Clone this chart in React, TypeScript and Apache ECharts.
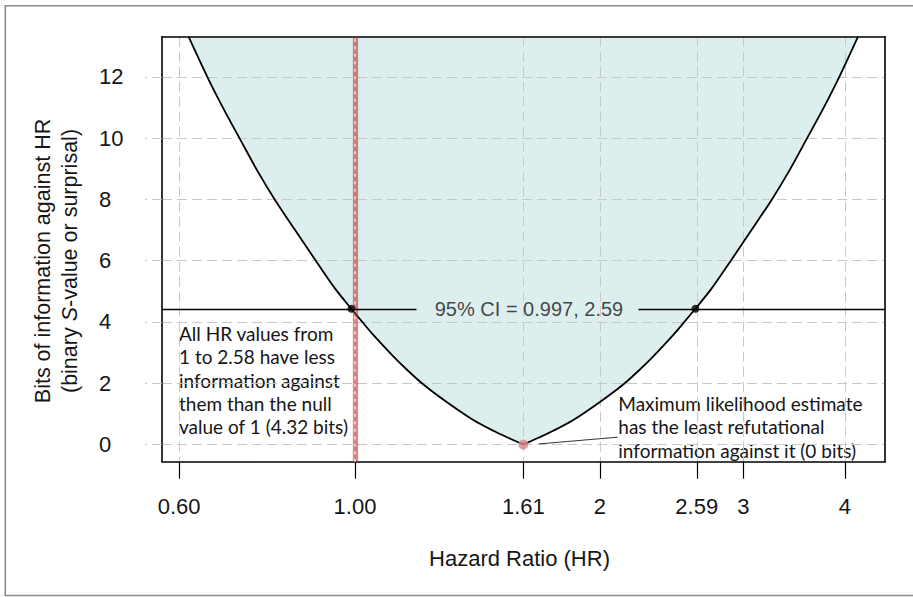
import React, { useEffect, useRef } from "react";
import * as echarts from "echarts";

// Hazard ratios along the S-value curve and their S-values (bits)
const hrValues = [
  0.6244, 0.6584, 0.6889, 0.7212, 0.7584, 0.7967, 0.8445, 0.895, 0.9458, 0.9896,
  1.0237, 1.0531, 1.1144, 1.1628, 1.2146, 1.2973, 1.3976, 1.4789, 1.543, 1.61,
  1.6797, 1.7526, 1.8546, 1.998, 2.1341, 2.2291, 2.3258, 2.4612, 2.5319, 2.6193,
  2.7406, 2.8961, 3.069, 3.2532, 3.4174, 3.594, 3.7626, 3.9368, 4.1507,
];
const sValues = [
  13.31, 12, 10.97, 10, 8.94, 8, 6.99, 6, 5.08, 4.43,
  3.96, 3.58, 2.88, 2.4, 1.95, 1.38, 0.8, 0.45, 0.22, 0,
  0.22, 0.45, 0.8, 1.38, 1.95, 2.4, 2.88, 3.58, 3.96, 4.43,
  5.08, 6, 6.99, 8, 8.94, 10, 10.97, 12, 13.31,
];

const xTickPositions = [0.608, 1, 1.61, 2, 2.63, 3, 4];
const xTickLabels = ["0.60", "1.00", "1.61", "2", "2.59", "3", "4"];
const yTicks = [0, 2, 4, 6, 8, 10, 12];
const xRange = [0.5792, 4.48];
const yRange = [-0.56, 13.31];

const ciLevel = 4.43;
const ciPointsHR = [0.99, 2.62];
const ciGapHR = [1.19, 2.23];
const ciLabel = "95% CI = 0.997, 2.59";
const ciLabelHR = 1.636;
const mlePoint = [1.61, 0];
const nullHR = 1;
const mleLeader = [
  [1.683, 0.02],
  [2.103, 0.24],
];

const leftNote = [
  "All HR values from",
  "1 to 2.58 have less",
  "information against",
  "them than the null",
  "value of 1 (4.32 bits)",
];
const rightNote = [
  "Maximum likelihood estimate",
  "has the least refutational",
  "information against it (0 bits)",
];
const xTitle = "Hazard Ratio (HR)";
const yTitle1 = "Bits of information against HR";

const L = (v: number) => Math.log(v);

export default function App() {
  const ref = useRef<HTMLDivElement>(null);

  useEffect(() => {
    if (!ref.current) return;
    const chart = echarts.init(ref.current, undefined, { renderer: "svg" });
    const curve = hrValues.map((h, i) => [L(h), sValues[i]]);
    const minIdx = sValues.indexOf(Math.min(...sValues));
    const leftBranch = curve.slice(0, minIdx + 1);
    const rightBranch = curve.slice(minIdx);
    const xTickLn = xTickPositions.map(L);
    const fmtX = (v: number) => {
      let best = 0;
      for (let i = 1; i < xTickLn.length; i++) {
        if (Math.abs(xTickLn[i] - v) < Math.abs(xTickLn[best] - v)) best = i;
      }
      return xTickLabels[best];
    };
    const sans = "'Liberation Sans', Arial, Helvetica, sans-serif";
    const noteFont = "Lato, 'Open Sans', sans-serif";
    const txt = "#161616";
    const xMin = L(xRange[0]);
    const xMax = L(xRange[1]);

    const areaSeries = (data: number[][]) => ({
      type: "line",
      data,
      symbol: "none",
      silent: true,
      smooth: 0.3,
      z: 1,
      lineStyle: { opacity: 0, width: 0 },
      areaStyle: { color: "#ddeeee", origin: "end", opacity: 1 },
    });
    const curveSeries = (data: number[][], extra: any = {}) => ({
      type: "line",
      data,
      symbol: "none",
      silent: true,
      smooth: 0.3,
      z: 4,
      lineStyle: { color: "#000", width: 1.8 },
      ...extra,
    });

    const option: any = {
      animation: false,
      backgroundColor: "#ffffff",
      grid: { left: 162, top: 36.7, right: 28, bottom: 135.3, containLabel: false, outerBoundsMode: "none" },
      xAxis: [
        {
          type: "value",
          min: xMin,
          max: xMax,
          z: 3,
          axisLine: { show: true, onZero: false, lineStyle: { color: "#000", width: 1.6 } },
          axisTick: { show: true, customValues: xTickLn, length: 17, lineStyle: { color: "#000", width: 1.2 } },
          axisLabel: {
            show: true,
            customValues: xTickLn,
            formatter: fmtX,
            margin: 34,
            fontSize: 22,
            fontFamily: sans,
            color: txt,
          },
          splitLine: { show: true, lineStyle: { color: "#c8c8c8", type: [10, 5], width: 1 } },
        },
        {
          type: "value",
          position: "top",
          min: xMin,
          max: xMax,
          z: 3,
          axisLine: { show: true, onZero: false, lineStyle: { color: "#000", width: 1.6 } },
          axisTick: { show: false },
          axisLabel: { show: false },
          splitLine: { show: false },
        },
      ],
      yAxis: [
        {
          type: "value",
          min: yRange[0],
          max: yRange[1],
          z: 3,
          axisLine: { show: true, onZero: false, lineStyle: { color: "#000", width: 1.6 } },
          axisTick: { show: true, customValues: yTicks, length: 17, lineStyle: { color: "#c8c8c8", type: [10, 5], width: 1 } },
          axisLabel: {
            show: true,
            customValues: yTicks,
            align: "left",
            margin: 63,
            fontSize: 22,
            fontFamily: sans,
            color: txt,
          },
          splitLine: { show: true, lineStyle: { color: "#c8c8c8", type: [10, 5], width: 1 } },
        },
        {
          type: "value",
          position: "right",
          min: yRange[0],
          max: yRange[1],
          z: 3,
          axisLine: { show: true, onZero: false, lineStyle: { color: "#000", width: 1.6 } },
          axisTick: { show: false },
          axisLabel: { show: false },
          splitLine: { show: false },
        },
      ],
      series: [
        areaSeries(leftBranch),
        areaSeries(rightBranch),
        curveSeries(leftBranch),
        curveSeries(rightBranch, {
          markLine: {
            silent: true,
            symbol: ["none", "none"],
            label: { show: false },
            z: 5,
            data: [
              { xAxis: L(nullHR), lineStyle: { color: "rgba(190,40,40,0.55)", width: 5.3, type: "solid" } },
              { xAxis: L(nullHR), lineStyle: { color: "rgba(235,235,235,0.95)", width: 1.5, type: [3, 4.5] } },
              [
                { coord: [xMin, ciLevel], lineStyle: { color: "#000", width: 1.3, type: "solid" } },
                { coord: [L(ciGapHR[0]), ciLevel] },
              ],
              [
                { coord: [L(ciGapHR[1]), ciLevel], lineStyle: { color: "#000", width: 1.3, type: "solid" } },
                { coord: [xMax, ciLevel] },
              ],
              [
                { coord: [L(mleLeader[0][0]), mleLeader[0][1]], lineStyle: { color: "#333", width: 1, type: "solid" } },
                { coord: [L(mleLeader[1][0]), mleLeader[1][1]] },
              ],
            ],
          },
        }),
        {
          type: "scatter",
          data: ciPointsHR.map((h) => [L(h), ciLevel]),
          symbolSize: 8,
          itemStyle: { color: "#000" },
          silent: true,
          z: 6,
        },
        {
          type: "scatter",
          data: [[L(mlePoint[0]), mlePoint[1]]],
          symbolSize: 10,
          itemStyle: { color: "#d98585" },
          silent: true,
          z: 6,
        },
        {
          type: "scatter",
          data: [[L(ciLabelHR), ciLevel]],
          symbolSize: 1,
          itemStyle: { color: "rgba(0,0,0,0)" },
          silent: true,
          z: 6,
          label: {
            show: true,
            position: "inside",
            formatter: ciLabel,
            fontSize: 20,
            fontFamily: sans,
            color: txt,
          },
        },
      ],
      graphic: [
        {
          type: "polyline",
          silent: true,
          shape: { points: [[930, 5.7], [5.3, 5.7], [5.3, 595.5], [930, 595.5]] },
          style: { stroke: "#8a8a8a", lineWidth: 1.6, fill: null },
        },
        {
          type: "text",
          x: 519.5,
          y: 558,
          style: { text: xTitle, fontSize: 22, fontFamily: sans, fill: txt, align: "center", verticalAlign: "middle" },
        },
        {
          type: "text",
          x: 42.5,
          y: 261,
          rotation: Math.PI / 2,
          style: { text: yTitle1, fontSize: 21.5, fontFamily: sans, fill: txt, align: "center", verticalAlign: "middle" },
        },
        {
          type: "text",
          x: 69.5,
          y: 261,
          rotation: Math.PI / 2,
          style: {
            text: "(binary {i|S}-value or surprisal)",
            fontSize: 21.5,
            fontFamily: sans,
            fill: txt,
            align: "center",
            verticalAlign: "middle",
            rich: {
              i: { fontStyle: "italic", fontSize: 21.5, fontFamily: sans, fill: txt },
            },
          },
        },
        {
          type: "text",
          x: 179,
          y: 322,
          style: {
            text: leftNote.join("\n"),
            fontSize: 19,
            lineHeight: 23.3,
            fontFamily: noteFont,
            fill: txt,
            align: "left",
            verticalAlign: "top",
          },
        },
        {
          type: "text",
          x: 618.3,
          y: 392,
          style: {
            text: rightNote.join("\n"),
            fontSize: 19,
            lineHeight: 23.3,
            fontFamily: noteFont,
            fill: txt,
            align: "left",
            verticalAlign: "top",
          },
        },
      ],
    };
    chart.setOption(option);
    return () => chart.dispose();
  }, []);

  return (
    <div
      ref={ref}
      style={{ position: "absolute", left: 0, top: 0, width: 913, height: 597 }}
    />
  );
}
